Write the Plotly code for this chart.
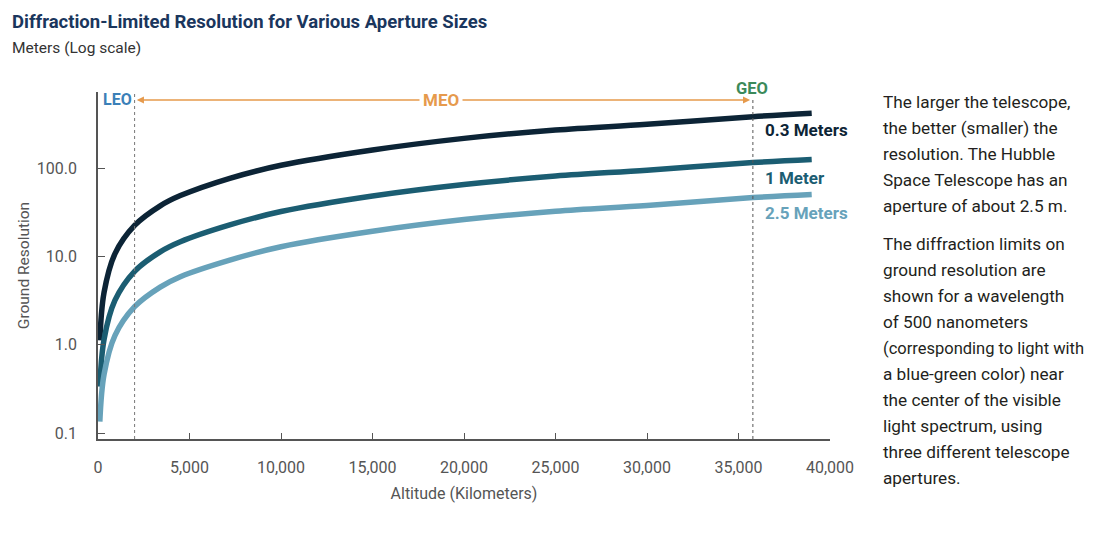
import plotly.graph_objects as go

# ---- data ----
altitude_km = [100, 330, 930, 2000, 3400, 4500, 7200, 10000, 15000, 20000, 25000, 30000, 35786, 39000]
res_03m = [1.12, 3.9, 10.8, 22.5, 37.5, 49.0, 77.0, 108, 161, 218, 271, 315, 384, 420]
res_1m = [0.336, 1.15, 3.2, 6.8, 11.3, 14.7, 22.8, 32.3, 48.5, 65.5, 81.5, 95.0, 116, 126]
res_25m = [0.135, 0.46, 1.28, 2.7, 4.5, 5.9, 9.1, 12.9, 19.3, 26.2, 32.6, 37.8, 46.5, 50.5]
series_names = ["0.3 Meters", "1 Meter", "2.5 Meters"]
series_colors = ["#0c2436", "#1b5d72", "#67a2ba"]
y_tickvals = [0.1, 1, 10, 100]
y_ticktext = ["0.1", "1.0", "10.0", "100.0"]
x_tickvals = [0, 5000, 10000, 15000, 20000, 25000, 30000, 35000, 40000]
x_ticktext = ["0", "5,000", "10,000", "15,000", "20,000", "25,000", "30,000", "35,000", "40,000"]
leo_km = 2000
geo_km = 35786
side_text_1 = ["The larger the telescope,", "the better (smaller) the", "resolution. The Hubble",
               "Space Telescope has an", "aperture of about 2.5 m."]
side_text_2 = ["The diffraction limits on", "ground resolution are", "shown for a wavelength",
               "of 500 nanometers", "(corresponding to light with", "a blue-green color) near",
               "the center of the visible", "light spectrum, using", "three different telescope",
               "apertures."]

FONT = "Roboto, 'Open Sans', sans-serif"
OFF = 8  # page body margin
W, H = 1097 - OFF, 541 - 2 * OFF
L, T = 98 - OFF, 92 - OFF
R = W - (830 - OFF)
B = H - (439 - OFF)
PW, PH = W - L - R, H - T - B


def px(xpix):
    return (xpix - OFF - L) / PW


def py(ypix):
    return (H - B - (ypix - OFF)) / PH


fig = go.Figure()
for vals, name, col in zip([res_03m, res_1m, res_25m], series_names, series_colors):
    fig.add_trace(go.Scatter(x=altitude_km, y=vals, mode="lines", name=name,
                             line=dict(color=col, width=5.5, shape="spline", smoothing=1.0),
                             showlegend=False, hoverinfo="skip"))

shapes = [
    dict(type="line", xref="x", yref="paper", x0=leo_km, x1=leo_km, y0=0, y1=1,
         line=dict(color="#777777", width=1, dash="dot")),
    dict(type="line", xref="x", yref="paper", x0=geo_km, x1=geo_km, y0=0, y1=py(100),
         line=dict(color="#555555", width=1, dash="dot")),
]

ann = []
mid = 19000
for tip in [leo_km + 120, geo_km - 150]:
    ann.append(dict(x=tip, y=py(100), xref="x", yref="paper", ax=mid, ay=0, axref="x", ayref="pixel",
                    text="", showarrow=True, arrowhead=2, arrowsize=1.1, arrowwidth=1.3,
                    arrowcolor="#e69a4c"))
ann.append(dict(x=px(441), y=py(100), xref="paper", yref="paper", text="<b>MEO</b>", showarrow=False,
                font=dict(family=FONT, size=17, color="#e69a4c"), bgcolor="white", borderpad=3,
                xanchor="center", yanchor="middle"))
ann.append(dict(x=px(101), y=py(100), xref="paper", yref="paper", text="<b>LEO</b>", showarrow=False,
                font=dict(family=FONT, size=16, color="#3b80b8"), xanchor="left", yanchor="middle"))
ann.append(dict(x=px(752), y=py(88), xref="paper", yref="paper", text="<b>GEO</b>", showarrow=False,
                font=dict(family=FONT, size=16.5, color="#3c8a5a"), xanchor="center", yanchor="middle"))
for name, col, yp in zip(series_names, series_colors, [130, 178, 213]):
    ann.append(dict(x=px(763), y=py(yp), xref="paper", yref="paper", text="<b>%s</b>" % name,
                    showarrow=False, font=dict(family=FONT, size=17, color=col),
                    xanchor="left", yanchor="middle"))
for i, t in enumerate(side_text_1):
    ann.append(dict(x=px(881), y=py(102 + 26 * i), xref="paper", yref="paper", text=t, showarrow=False,
                    font=dict(family=FONT, size=17.2, color="#231f20"), xanchor="left", yanchor="middle"))
for i, t in enumerate(side_text_2):
    fs = 16.5 if t.startswith("(") else 17.2
    ann.append(dict(x=px(881), y=py(244 + 26 * i), xref="paper", yref="paper", text=t, showarrow=False,
                    font=dict(family=FONT, size=fs, color="#231f20"), xanchor="left", yanchor="middle"))
ann.append(dict(x=px(10), y=py(22), xref="paper", yref="paper",
                text="<b>Diffraction-Limited Resolution for Various Aperture Sizes</b>", showarrow=False,
                font=dict(family=FONT, size=18.5, color="#1a365d"), xanchor="left", yanchor="middle"))
ann.append(dict(x=px(10), y=py(48), xref="paper", yref="paper", text="Meters (Log scale)", showarrow=False,
                font=dict(family=FONT, size=15.5, color="#333333"), xanchor="left", yanchor="middle"))

fig.update_layout(
    width=W, height=H, autosize=False,
    margin=dict(l=L, r=R, t=T, b=B, pad=0),
    paper_bgcolor="white", plot_bgcolor="white",
    shapes=shapes, annotations=ann,
    xaxis=dict(range=[0, 40000], tickvals=x_tickvals, ticktext=x_ticktext, ticks="inside", ticklen=6,
               tickcolor="#555555", showline=True, linecolor="#555555", linewidth=1.5, showgrid=False,
               zeroline=False, tickfont=dict(family=FONT, size=16, color="#555555"), ticklabelstandoff=13,
               title=dict(text="Altitude (Kilometers)", font=dict(family=FONT, size=16, color="#555555"),
                          standoff=12)),
    yaxis=dict(type="log", range=[-1.068, 2.864], tickvals=y_tickvals, ticktext=y_ticktext,
               ticks="inside", ticklen=7, tickcolor="#555555", showline=True, linecolor="#555555",
               linewidth=1.5, showgrid=False, zeroline=False,
               tickfont=dict(family=FONT, size=16, color="#555555"), ticklabelstandoff=16,
               title=dict(text="Ground Resolution", font=dict(family=FONT, size=15.5, color="#555555"),
                          standoff=3)),
)

fig.write_html("out.html")
